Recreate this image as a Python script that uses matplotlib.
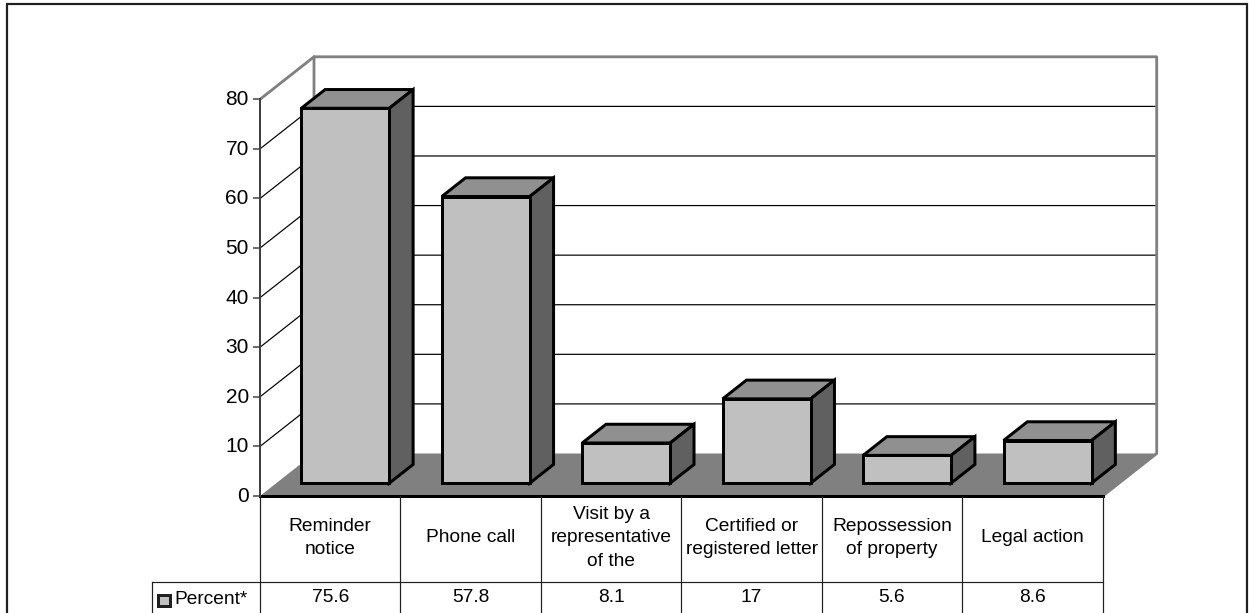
import matplotlib
matplotlib.use("Agg")
import matplotlib.pyplot as plt
from matplotlib.patches import Polygon, Rectangle
from matplotlib.transforms import blended_transform_factory as blend, ScaledTranslation

categories = ["Reminder\nnotice", "Phone call", "Visit by a\nrepresentative\nof the",
              "Certified or\nregistered letter", "Repossession\nof property", "Legal action"]
values = [75.6, 57.8, 8.1, 17, 5.6, 8.6]
value_labels = ["75.6", "57.8", "8.1", "17", "5.6", "8.6"]
series_name = "Percent*"
y_ticks = list(range(0, 90, 10))

W, H = 1249, 613
plt.rcParams['font.family'] = ['Liberation Sans', 'DejaVu Sans']
fig = plt.figure(figsize=(W/100, H/100), dpi=100)
L, R, T, B = 260.0, 1102.7, 99.3, 496.0
ax = fig.add_axes([L/W, 1-B/H, (R-L)/W, (B-T)/H])
ax.set_xlim(0, 6); ax.set_ylim(0, 80)
ax.patch.set_visible(False)

px = (R-L)/6; py = (B-T)/80
DX, DY = 54/px, 42.5/py            # full depth in data units
FS = 11.6*1.19

def lw(p): return p*0.72

def depth(x, y, d):
    return (x + DX*d, y + DY*d)

# outer border (figure coordinates)
fig.add_artist(Rectangle((7/W, -0.02), (1247-7)/W, 1.02-3.5/H, transform=fig.transFigure,
                         fill=False, ec='#202020', lw=lw(2.2)))

# walls and floor
ax.add_patch(Polygon([depth(0,0,0), depth(6,0,0), depth(6,0,1), depth(0,0,1)],
                     fc='#808080', ec='none', clip_on=False, zorder=1))
for t in y_ticks[1:]:
    ax.plot(*zip(depth(0,t,0), depth(0,t,1), depth(6,t,1)), color='black', lw=lw(1.2),
            clip_on=False, zorder=1.5, solid_joinstyle='miter')
ax.plot(*zip(depth(0,0,1), depth(0,80,1), depth(6,80,1), depth(6,0,1), depth(6,0,0)),
        color='#808080', lw=lw(2.8), clip_on=False, zorder=1.6)
ax.plot(*zip(depth(0,80,0), depth(0,80,1)), color='#808080', lw=lw(2.8), clip_on=False, zorder=1.6)

# bars
bw = 88.0/px
bd0, bd1 = 12.7/42, (12.7+18.5)/42
for i, v in enumerate(values):
    x0 = i + (41 - 16)/px
    x1 = x0 + bw
    ec = dict(ec='black', lw=lw(3), joinstyle='miter', clip_on=False, zorder=3)
    ax.add_patch(Polygon([depth(x0,v,bd0), depth(x1,v,bd0), depth(x1,v,bd1), depth(x0,v,bd1)], fc='#909090', **ec))
    ax.add_patch(Polygon([depth(x1,0,bd0), depth(x1,0,bd1), depth(x1,v,bd1), depth(x1,v,bd0)], fc='#606060', **ec))
    ax.add_patch(Polygon([depth(x0,0,bd0), depth(x1,0,bd0), depth(x1,v,bd0), depth(x0,v,bd0)], fc='#C0C0C0', **ec))

# axis
for s in ('top', 'right', 'bottom'):
    ax.spines[s].set_visible(False)
ax.spines['left'].set_color('#404040'); ax.spines['left'].set_linewidth(lw(2))
ax.set_xticks([])
ax.set_yticks(y_ticks)
ax.tick_params(axis='y', length=lw(7), width=lw(1.5), color='#404040', labelsize=15, pad=3)
shift = ScaledTranslation(0, 1.5/100, fig.dpi_scale_trans)
for lab in ax.get_yticklabels():
    lab.set_transform(lab.get_transform() + shift)
ax.plot([0, 6], [0, 0], color='black', lw=lw(3), clip_on=False, zorder=2)

# data table
tr = blend(ax.transData, fig.transFigure)
yf = lambda y: 1 - y/H
row_y = 581.7
for k in range(7):
    ax.plot([k, k], [yf(B), 0], transform=tr, color='#202020', lw=lw(1.2), clip_on=False)
leg_x = (152.3-L)/px
ax.plot([leg_x, 6], [yf(row_y)]*2, transform=tr, color='#202020', lw=lw(1.2), clip_on=False)
ax.plot([leg_x, leg_x], [yf(row_y), 0], transform=tr, color='#202020', lw=lw(1.2), clip_on=False)
for i, (c, lab) in enumerate(zip(categories, value_labels)):
    ax.text(i+0.5, yf(538), c, transform=tr, ha='center', va='center', fontsize=FS, linespacing=1.5)
    ax.text(i+0.5, yf(598), lab, transform=tr, ha='center', va='center', fontsize=FS)
ax.text((174.5-L)/px, yf(599.5), series_name, transform=tr, ha='left', va='center', fontsize=FS)
fig.add_artist(Rectangle((158/W, 1-606/H), 11.5/W, 11.5/H, transform=fig.transFigure,
                         fc='#C0C0C0', ec='#202020', lw=lw(3)))
fig.savefig("out.png", dpi=100)
